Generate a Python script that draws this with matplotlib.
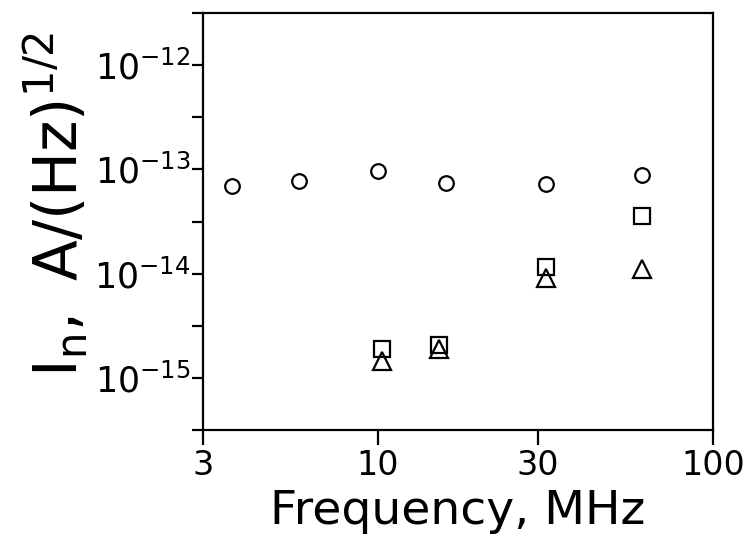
import matplotlib
matplotlib.use('Agg')
import matplotlib.pyplot as plt
from matplotlib.ticker import FixedLocator, FixedFormatter, NullFormatter

# ---- data ----
circle_freq = [3.65, 5.8, 10.0, 15.9, 31.8, 61.5]
circle_noise = [7.0e-14, 7.8e-14, 9.6e-14, 7.4e-14, 7.3e-14, 8.9e-14]
square_freq = [10.3, 15.2, 31.8, 61.5]
square_noise = [1.9e-15, 2.05e-15, 1.16e-14, 3.6e-14]
triangle_freq = [10.3, 15.2, 31.8, 61.5]
triangle_noise = [1.46e-15, 1.88e-15, 9.05e-15, 1.11e-14]

x_ticks = [3, 10, 30, 100]
x_tick_labels = ['3', '10', '30', '100']
y_ticks = [1e-15, 1e-14, 1e-13, 1e-12]
y_tick_labels = [r'$\mathregular{10^{-15}}$', r'$\mathregular{10^{-14}}$',
                 r'$\mathregular{10^{-13}}$', r'$\mathregular{10^{-12}}$']
y_minor_ticks = [10**-15.5, 10**-14.5, 10**-13.5, 10**-12.5, 10**-11.5]

plt.rcParams['font.family'] = ['DejaVu Sans']
plt.rcParams['mathtext.fontset'] = 'dejavusans'

fig = plt.figure(figsize=(7.52, 5.55), dpi=100)
ax = fig.add_axes([203/752, (555-430)/555, (713-203)/752, (430-13)/555])

mk = dict(linestyle='none', markerfacecolor='none', markeredgecolor='black',
          markeredgewidth=1.6, clip_on=False)
ax.plot(circle_freq, circle_noise, marker='o', markersize=10.5, **mk)
ax.plot(square_freq, square_noise, marker='s', markersize=11, **mk)
ax.plot(triangle_freq, triangle_noise, marker='^', markersize=13.5, **mk)

ax.set_xscale('log')
ax.set_yscale('log')
ax.set_xlim(3, 100)
ax.set_ylim(10**-15.5, 10**-11.5)

ax.xaxis.set_major_locator(FixedLocator(x_ticks))
ax.xaxis.set_major_formatter(FixedFormatter(x_tick_labels))
ax.xaxis.set_minor_locator(FixedLocator([]))
ax.yaxis.set_major_locator(FixedLocator(y_ticks))
ax.yaxis.set_major_formatter(FixedFormatter(y_tick_labels))
ax.yaxis.set_minor_locator(FixedLocator(y_minor_ticks))
ax.yaxis.set_minor_formatter(NullFormatter())

for s in ax.spines.values():
    s.set_linewidth(1.6)

ax.tick_params(axis='x', which='major', direction='out', length=11, width=1.6,
               labelsize=24, pad=3)
ax.tick_params(axis='y', which='both', direction='out', length=8, width=1.6,
               labelsize=25, pad=1)

ax.set_xlabel('Frequency, MHz', fontsize=34, labelpad=5)
ax.set_ylabel(r'$\mathregular{I_n,\ A/(Hz)^{1/2}}$', fontsize=43)
ax.yaxis.set_label_coords(-0.22, 0.54)

fig.savefig('out.png', dpi=100)
